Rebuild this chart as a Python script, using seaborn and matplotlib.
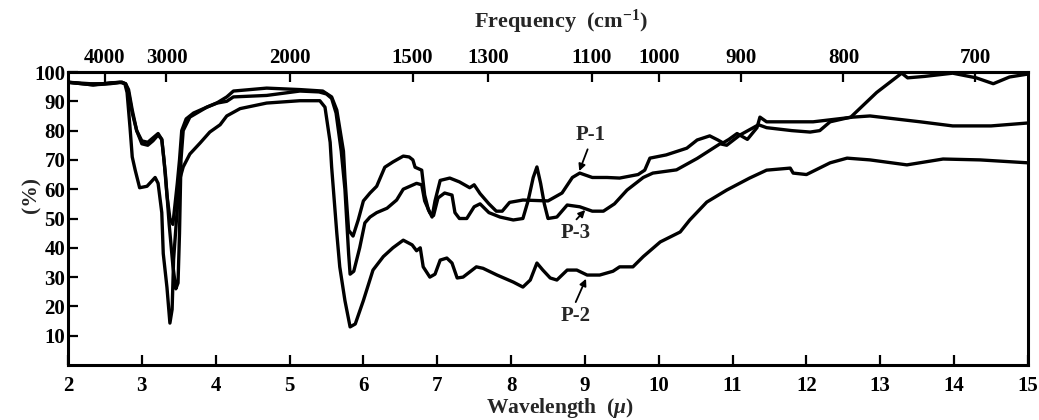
import numpy as np
import pandas as pd
import seaborn as sns
import matplotlib.pyplot as plt

# wavelength (micron) and transmittance (%)
wl_p1 = [2.0, 2.3, 2.5, 2.7, 2.78, 2.82, 2.87, 2.93, 3.0, 3.08, 3.15, 3.22, 3.27, 3.3, 3.34,
         3.38, 3.42, 3.45, 3.48, 3.51, 3.54, 3.6, 3.7, 3.88, 4.02, 4.15, 4.24, 4.69, 5.14,
         5.45, 5.57, 5.64, 5.73, 5.75, 5.78, 5.8, 5.86, 5.93, 6.0, 6.09, 6.18, 6.29, 6.4,
         6.54, 6.62, 6.67, 6.7, 6.79, 6.83, 6.88, 6.93, 6.97, 7.04, 7.17, 7.3, 7.44, 7.5,
         7.58, 7.7, 7.8, 7.88, 7.98, 8.16, 8.5, 8.69, 8.83, 8.93, 9.1, 9.3, 9.47, 9.72,
         9.81, 9.88, 10.1, 10.38, 10.52, 10.69, 10.8, 10.87, 10.95, 11.06, 11.2, 11.33,
         11.37, 11.46, 12.09, 12.63, 12.86, 13.54, 13.98, 14.5, 15.0]
t_p1 = [96.5, 96, 96, 96.5, 96, 93, 86, 80, 76.5, 76, 77.5, 79, 77, 70, 58,
        50, 48, 55, 62, 70, 80, 84, 86, 88, 89.5, 91.5, 93.5, 94.5, 94,
        93.5, 91.5, 87, 73, 64, 53, 46, 44, 49.5, 56, 58.7, 61, 67.5, 69.3,
        71.3, 71, 70, 67.5, 66.5, 58, 53, 50.5, 56, 63, 63.8, 62.5, 60.5, 61.5,
        58.5, 55, 52.5, 52.5, 55.5, 56.3, 56, 58.7, 64, 65.5, 64, 64, 63.8, 65,
        66.5, 70.6, 71.7, 74, 76.8, 78.2, 76.8, 75.8, 77, 79, 77, 81,
        84.6, 83, 83, 84.6, 85, 83, 81.6, 81.6, 82.6]

wl_p2 = [2.0, 2.34, 2.57, 2.73, 2.77, 2.8, 2.84, 2.87, 2.91, 2.97, 3.07, 3.18, 3.22, 3.27,
         3.29, 3.34, 3.38, 3.41, 3.43, 3.47, 3.5, 3.52, 3.56, 3.65, 3.79, 3.92, 4.06, 4.15,
         4.33, 4.69, 5.14, 5.41, 5.48, 5.55, 5.57, 5.64, 5.68, 5.75, 5.82, 5.89, 6.0, 6.13,
         6.27, 6.4, 6.54, 6.66, 6.72, 6.77, 6.81, 6.9, 6.97, 7.04, 7.13, 7.2, 7.27, 7.35,
         7.53, 7.62, 7.81, 8.03, 8.16, 8.26, 8.35, 8.43, 8.53, 8.62, 8.76, 8.89, 9.03, 9.2,
         9.38, 9.47, 9.65, 9.79, 10.02, 10.29, 10.42, 10.65, 10.92, 11.23, 11.46, 11.78,
         11.82, 12.0, 12.32, 12.55, 12.86, 13.36, 13.85, 14.35, 15.0]
t_p2 = [96.5, 95.6, 96.3, 96.5, 96, 93, 81, 71, 66.5, 60.5, 61, 64, 62, 52,
        38, 26.5, 14.3, 19, 36, 50, 60, 64, 67.6, 72, 75.8, 79.5, 82, 85,
        87.5, 89.4, 90.2, 90.2, 88, 76, 67.6, 45, 33.5, 22, 13, 14, 22, 32.4,
        37, 40, 42.6, 41, 39, 40, 33.5, 30, 31, 35.8, 36.5, 34.8, 29.7, 30,
        33.5, 33, 30.7, 28.3, 26.6, 29, 34.8, 32.4, 29.7, 29, 32.4, 32.4, 30.7, 30.7,
        32, 33.5, 33.5, 37, 42, 45.4, 49.5, 55.6, 59.7, 63.8, 66.5, 67.2,
        65.5, 65, 69, 70.6, 70, 68.3, 70.3, 70, 69]

wl_p3 = [2.0, 2.34, 2.57, 2.73, 2.78, 2.82, 2.87, 2.93, 3.0, 3.08, 3.15, 3.22, 3.27, 3.32,
         3.37, 3.42, 3.46, 3.49, 3.51, 3.53, 3.56, 3.65, 3.88, 4.02, 4.15, 4.24, 4.69, 5.14,
         5.4, 5.5, 5.57, 5.63, 5.7, 5.75, 5.8, 5.82, 5.87, 5.95, 6.02, 6.09, 6.18, 6.32,
         6.45, 6.54, 6.72, 6.79, 6.83, 6.9, 6.95, 7.01, 7.1, 7.2, 7.24, 7.3, 7.4, 7.5,
         7.58, 7.7, 7.85, 8.03, 8.16, 8.23, 8.3, 8.35, 8.4, 8.45, 8.5, 8.62, 8.76, 8.93,
         9.1, 9.25, 9.4, 9.57, 9.79, 9.92, 10.24, 10.52, 10.83, 10.92, 11.1, 11.28, 11.35,
         11.46, 11.8, 12.05, 12.18, 12.32, 12.6, 12.95, 13.29, 13.37, 13.6, 13.98, 14.3,
         14.53, 14.75, 15.0]
t_p3 = [96.5, 95.6, 96, 96.5, 96, 94, 87, 80, 75.5, 75, 76.5, 78.5, 77, 65,
        48, 34, 26, 28, 45, 70, 80, 84.6, 88, 89.4, 90, 91.5, 92, 93.5,
        93.2, 92.5, 91, 86, 73, 60, 38, 31, 32, 40, 48.5, 50.5, 52, 53.5,
        56.3, 60, 62, 61.5, 56, 52, 51, 57, 58.7, 58, 52, 50, 50, 54,
        55, 52, 50.5, 49.5, 50, 56, 64, 67.6, 62, 55, 50, 50.5, 54.6, 54,
        52.5, 52.5, 55, 59.7, 64, 65.5, 66.6, 70.5, 75.5, 75, 78.5, 81, 82,
        81, 80, 79.5, 80, 83, 84.6, 93, 99.6, 98, 98.5, 99.6, 98,
        96, 98.3, 99.3]

wl_ticks = list(range(2, 16))
pct_ticks = [10, 20, 30, 40, 50, 60, 70, 80, 90, 100]
freq_ticks = [4000, 3000, 2000, 1500, 1300, 1100, 1000, 900, 800, 700]

# label text position, arrow tail, arrow head (wavelength, %)
labels = ["P-1", "P-3", "P-2"]
label_xy = [(9.08, 78.5), (8.87, 45.2), (8.87, 16.8)]
arrow_tail = [(9.05, 74.5), (8.86, 49.0), (8.86, 20.6)]
arrow_head = [(8.91, 65.3), (9.03, 53.6), (9.03, 30.3)]

sns.set_theme(style="ticks")
plt.rcParams["font.family"] = ["Liberation Serif", "DejaVu Serif"]
plt.rcParams["font.weight"] = "bold"
plt.rcParams["mathtext.fontset"] = "custom"
plt.rcParams["mathtext.rm"] = "Liberation Serif:bold"
plt.rcParams["mathtext.it"] = "Liberation Serif:italic:bold"

fig = plt.figure(figsize=(10.39, 4.2), dpi=100)
ax = fig.add_axes([68 / 1039, 55 / 420, 960 / 1039, 293 / 420])

for wl, t in [(wl_p1, t_p1), (wl_p2, t_p2), (wl_p3, t_p3)]:
    df = pd.DataFrame({"wl": wl, "t": t})
    sns.lineplot(data=df, x="wl", y="t", ax=ax, color="black", lw=2.4,
                 sort=False, estimator=None)

ax.set_xlim(2, 15)
ax.set_ylim(0, 100)
ax.set_xticks(wl_ticks)
ax.set_yticks(pct_ticks)
ax.tick_params(axis="both", direction="in", length=7, width=1.6,
               labelsize=15, colors="black")
ax.tick_params(axis="x", pad=8)
ax.tick_params(axis="y", pad=2)
for s in ax.spines.values():
    s.set_visible(True)
    s.set_linewidth(2.2)
    s.set_color("black")

ax.set_xlabel("Wavelength  ($\\mu$)", fontsize=15.5, fontweight="bold")
ax.xaxis.set_label_coords(0.5125, -0.105)
ax.set_ylabel("(%)", fontsize=15.5, fontweight="bold")
ax.yaxis.set_label_coords(-0.028, 0.58)


def to_freq(x):
    x = np.asarray(x, dtype=float)
    return 1e4 / np.where(np.abs(x) < 1e-6, 1e-6, x)


secax = ax.secondary_xaxis("top", functions=(to_freq, to_freq))
secax.set_xticks(freq_ticks)
secax.set_xticklabels([str(f) for f in freq_ticks])
secax.tick_params(direction="in", length=7, width=1.6, labelsize=15, pad=3,
                  colors="black")
secax.spines["top"].set_linewidth(2.2)
fig.text(561 / 1039, 1 - 22 / 420, "Frequency  (cm$^{-1}$)", ha="center",
         va="center", fontsize=16, fontweight="bold")

for lab, xy, tail, head in zip(labels, label_xy, arrow_tail, arrow_head):
    ax.text(xy[0], xy[1], lab, ha="center", va="center", fontsize=15,
            fontweight="bold")
    ax.annotate("", xy=head, xytext=tail,
                arrowprops=dict(arrowstyle="-|>", color="black", lw=1.3,
                                mutation_scale=10))

fig.savefig("out.png", dpi=100)
